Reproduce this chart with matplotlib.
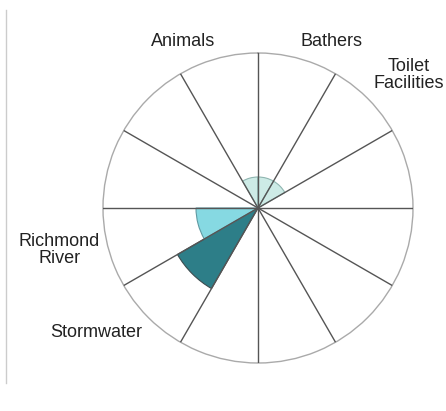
import numpy as np
import matplotlib
matplotlib.use("Agg")
import matplotlib.pyplot as plt
from matplotlib.lines import Line2D

# sectors clockwise from north, first one starts at -30 deg
categories = ["Animals", "Bathers", "Toilet\nFacilities", "", "", "", "",
              "", "Stormwater", "Richmond\nRiver", "", ""]
values = [0.2, 0.2, 0.2, 0, 0, 0, 0, 0, 0.6, 0.4, 0, 0]
colors = ["#cdebe6", "#cdebe6", "#cdebe6", "#cdebe6", "#cdebe6", "#cdebe6",
          "#cdebe6", "#cdebe6", "#2d7e88", "#86d9e2", "#cdebe6", "#cdebe6"]
edges = ["#8fb5b0", "#8fb5b0", "#8fb5b0", "#8fb5b0", "#8fb5b0", "#8fb5b0",
         "#8fb5b0", "#8fb5b0", "#3c4c50", "#5f9aa2", "#8fb5b0", "#8fb5b0"]

plt.rcParams["font.family"] = ["Liberation Sans", "DejaVu Sans"]

W, H = 446, 411
fig = plt.figure(figsize=(W / 100, H / 100), dpi=100)
cx, cy, R = 258, 208, 155
ax = fig.add_axes([(cx - R) / W, (H - cy - R) / H, 2 * R / W, 2 * R / H],
                  projection="polar")
ax.set_theta_zero_location("N")
ax.set_theta_direction(-1)

n = len(categories)
width = 2 * np.pi / n
centers = (np.arange(n) - 0.5) * width
ax.bar(centers, values, width=width, color=colors, edgecolor=edges,
       linewidth=0.8, zorder=1)

ax.set_ylim(0, 1)
ax.set_yticks([])
ax.set_xticks(np.arange(n) * width)
ax.set_xticklabels([])
ax.tick_params(axis="x", length=0)
ax.xaxis.grid(True, color="#555555", linewidth=1.0)
ax.set_axisbelow(False)
ax.spines["polar"].set_color("#aaaaaa")
ax.spines["polar"].set_linewidth(1.0)

for th, lab in zip(centers, categories):
    if not lab:
        continue
    s, c = np.sin(th), np.cos(th)
    ha = "left" if s > 0.1 else ("right" if s < -0.1 else "center")
    va = "bottom" if c > 0.3 else ("top" if c < -0.3 else "center")
    ax.text(th, 1.055, lab, ha=ha, va=va, multialignment="center",
            fontsize=13, color="#222222", clip_on=False, linespacing=1.0)

fig.add_artist(Line2D([6 / W, 6 / W], [1 - 10 / H, 1 - 383 / H],
                      color="#cccccc", linewidth=1.0))

fig.savefig("out.png", dpi=100)
